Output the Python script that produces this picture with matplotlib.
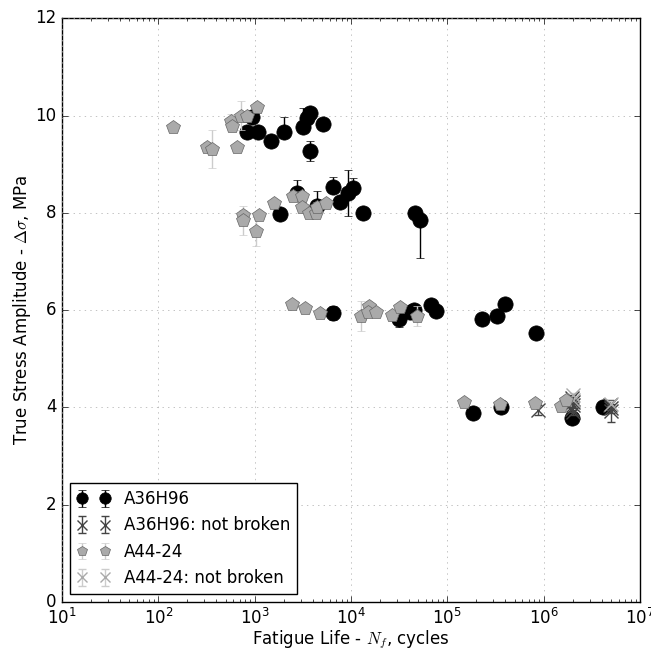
import matplotlib

matplotlib.use("Agg")

import matplotlib.pyplot as plt

# A36H96 (broken)
a36_n = [830, 930, 1085, 1480, 2020, 3170, 3480, 3750, 3750, 5120,
         1840, 2760, 4440, 6520, 7710, 9330, 10500, 13400, 46300, 52200,
         6520, 31700, 41100, 45200, 67600, 76000, 229000, 329000, 398000, 832000,
         185000, 362000, 1.98e6, 4.15e6]
a36_s = [9.66, 9.97, 9.66, 9.47, 9.66, 9.76, 9.94, 10.05, 9.27, 9.82,
         7.97, 8.40, 8.14, 8.53, 8.22, 8.40, 8.51, 7.99, 7.99, 7.85,
         5.94, 5.81, 5.96, 6.00, 6.10, 5.98, 5.81, 5.88, 6.12, 5.53,
         3.88, 4.01, 3.78, 4.01]
a36_err_lo = [0.08, 0.1, 0.1, 0.05, 0.08, 0.1, 0.1, 0.1, 0.2, 0.05,
              0.05, 0.1, 0.1, 0.1, 0.1, 0.47, 0.1, 0.05, 0.05, 0.78,
              0.15, 0.15, 0.05, 0.05, 0.05, 0.05, 0.05, 0.05, 0.1, 0.05,
              0.05, 0.1, 0.05, 0.1]
a36_err_hi = [0.08, 0.1, 0.1, 0.05, 0.3, 0.4, 0.2, 0.1, 0.2, 0.05,
              0.05, 0.27, 0.3, 0.2, 0.1, 0.47, 0.2, 0.05, 0.05, 0.0,
              0.15, 0.15, 0.05, 0.05, 0.05, 0.05, 0.05, 0.05, 0.1, 0.05,
              0.05, 0.1, 0.05, 0.1]

# A36H96 (not broken / run-out)
a36nb_n = [870000, 1.95e6, 2.0e6, 2.02e6, 1.98e6, 2.0e6, 4.9e6, 5.0e6, 5.05e6]
a36nb_s = [3.95, 4.20, 4.12, 4.04, 3.96, 3.90, 4.05, 3.98, 3.92]
a36nb_err = [0.1, 0.05, 0.05, 0.05, 0.05, 0.05, 0.1, 0.1, 0.22]

# A44-24 (broken)
a44_n = [142, 320, 361, 569, 582, 656, 724, 830, 1060,
         760, 760, 1110, 1035, 1580, 2500, 3100, 3100, 3670, 4360, 4460, 5500,
         2450, 3320, 4760, 12700, 15400, 15100, 18300, 26700, 32500, 48600,
         149000, 353000, 813000, 1.51e6, 1.7e6]
a44_s = [9.76, 9.35, 9.31, 9.88, 9.78, 9.35, 10.0, 9.99, 10.17,
         7.95, 7.85, 7.95, 7.62, 8.20, 8.34, 8.34, 8.12, 7.99, 7.99, 8.12, 8.20,
         6.12, 6.04, 5.94, 5.88, 6.08, 5.96, 5.96, 5.90, 6.06, 5.88,
         4.11, 4.07, 4.09, 4.03, 4.15]
a44_err = [0.05, 0.1, 0.39, 0.15, 0.1, 0.05, 0.3, 0.1, 0.1,
           0.1, 0.3, 0.05, 0.3, 0.05, 0.1, 0.1, 0.1, 0.05, 0.05, 0.1, 0.05,
           0.05, 0.05, 0.05, 0.3, 0.05, 0.05, 0.05, 0.05, 0.05, 0.2,
           0.05, 0.05, 0.05, 0.05, 0.05]

# A44-24 (not broken / run-out)
a44nb_n = [2.0e6, 2.0e6, 5.0e6]
a44nb_s = [4.25, 4.15, 4.08]
a44nb_err = [0.05, 0.05, 0.05]

plt.style.use("classic")
plt.rcParams["figure.facecolor"] = "white"
plt.rcParams["savefig.facecolor"] = "white"

fig = plt.figure(figsize=(6.51, 6.5), dpi=100)
axis = fig.add_axes([0.0952, 0.0738, 0.8878, 0.8982])

axis.errorbar(a36_n, a36_s, yerr=[a36_err_lo, a36_err_hi], fmt="o",
              color="black", mfc="black", mec="black", ms=11, ecolor="black",
              capsize=3, label="A36H96", zorder=3)
axis.errorbar(a36nb_n, a36nb_s, yerr=a36nb_err, fmt="x", color="#555555",
              mec="#444444", ms=10, mew=1.0, ecolor="#444444", capsize=3,
              label="A36H96: not broken", zorder=4)
axis.errorbar(a44_n, a44_s, yerr=a44_err, fmt="p", mfc="#aaaaaa",
              mec="#666666", ms=10, ecolor="#cccccc", capsize=3,
              label="A44-24", zorder=5)
axis.errorbar(a44nb_n, a44nb_s, yerr=a44nb_err, fmt="x", color="#aaaaaa",
              mec="#aaaaaa", ms=10, mew=1.0, ecolor="#cccccc", capsize=3,
              label="A44-24: not broken", zorder=4)

axis.set_xscale("log")
axis.set_xlim(10, 1e7)
axis.set_ylim(0, 12)
axis.grid(True, color="#aaaaaa")
axis.set_xlabel("Fatigue Life - $N_f$, cycles", math_fontfamily="cm")
axis.set_ylabel("True Stress Amplitude - $\\Delta\\sigma$, MPa", math_fontfamily="cm")
axis.xaxis.set_label_coords(0.5, -0.045)
axis.yaxis.set_label_coords(-0.050, 0.5)
axis.legend(loc="lower left", numpoints=2, fontsize=12, markerscale=0.75)

fig.savefig("out.png", dpi=100)
